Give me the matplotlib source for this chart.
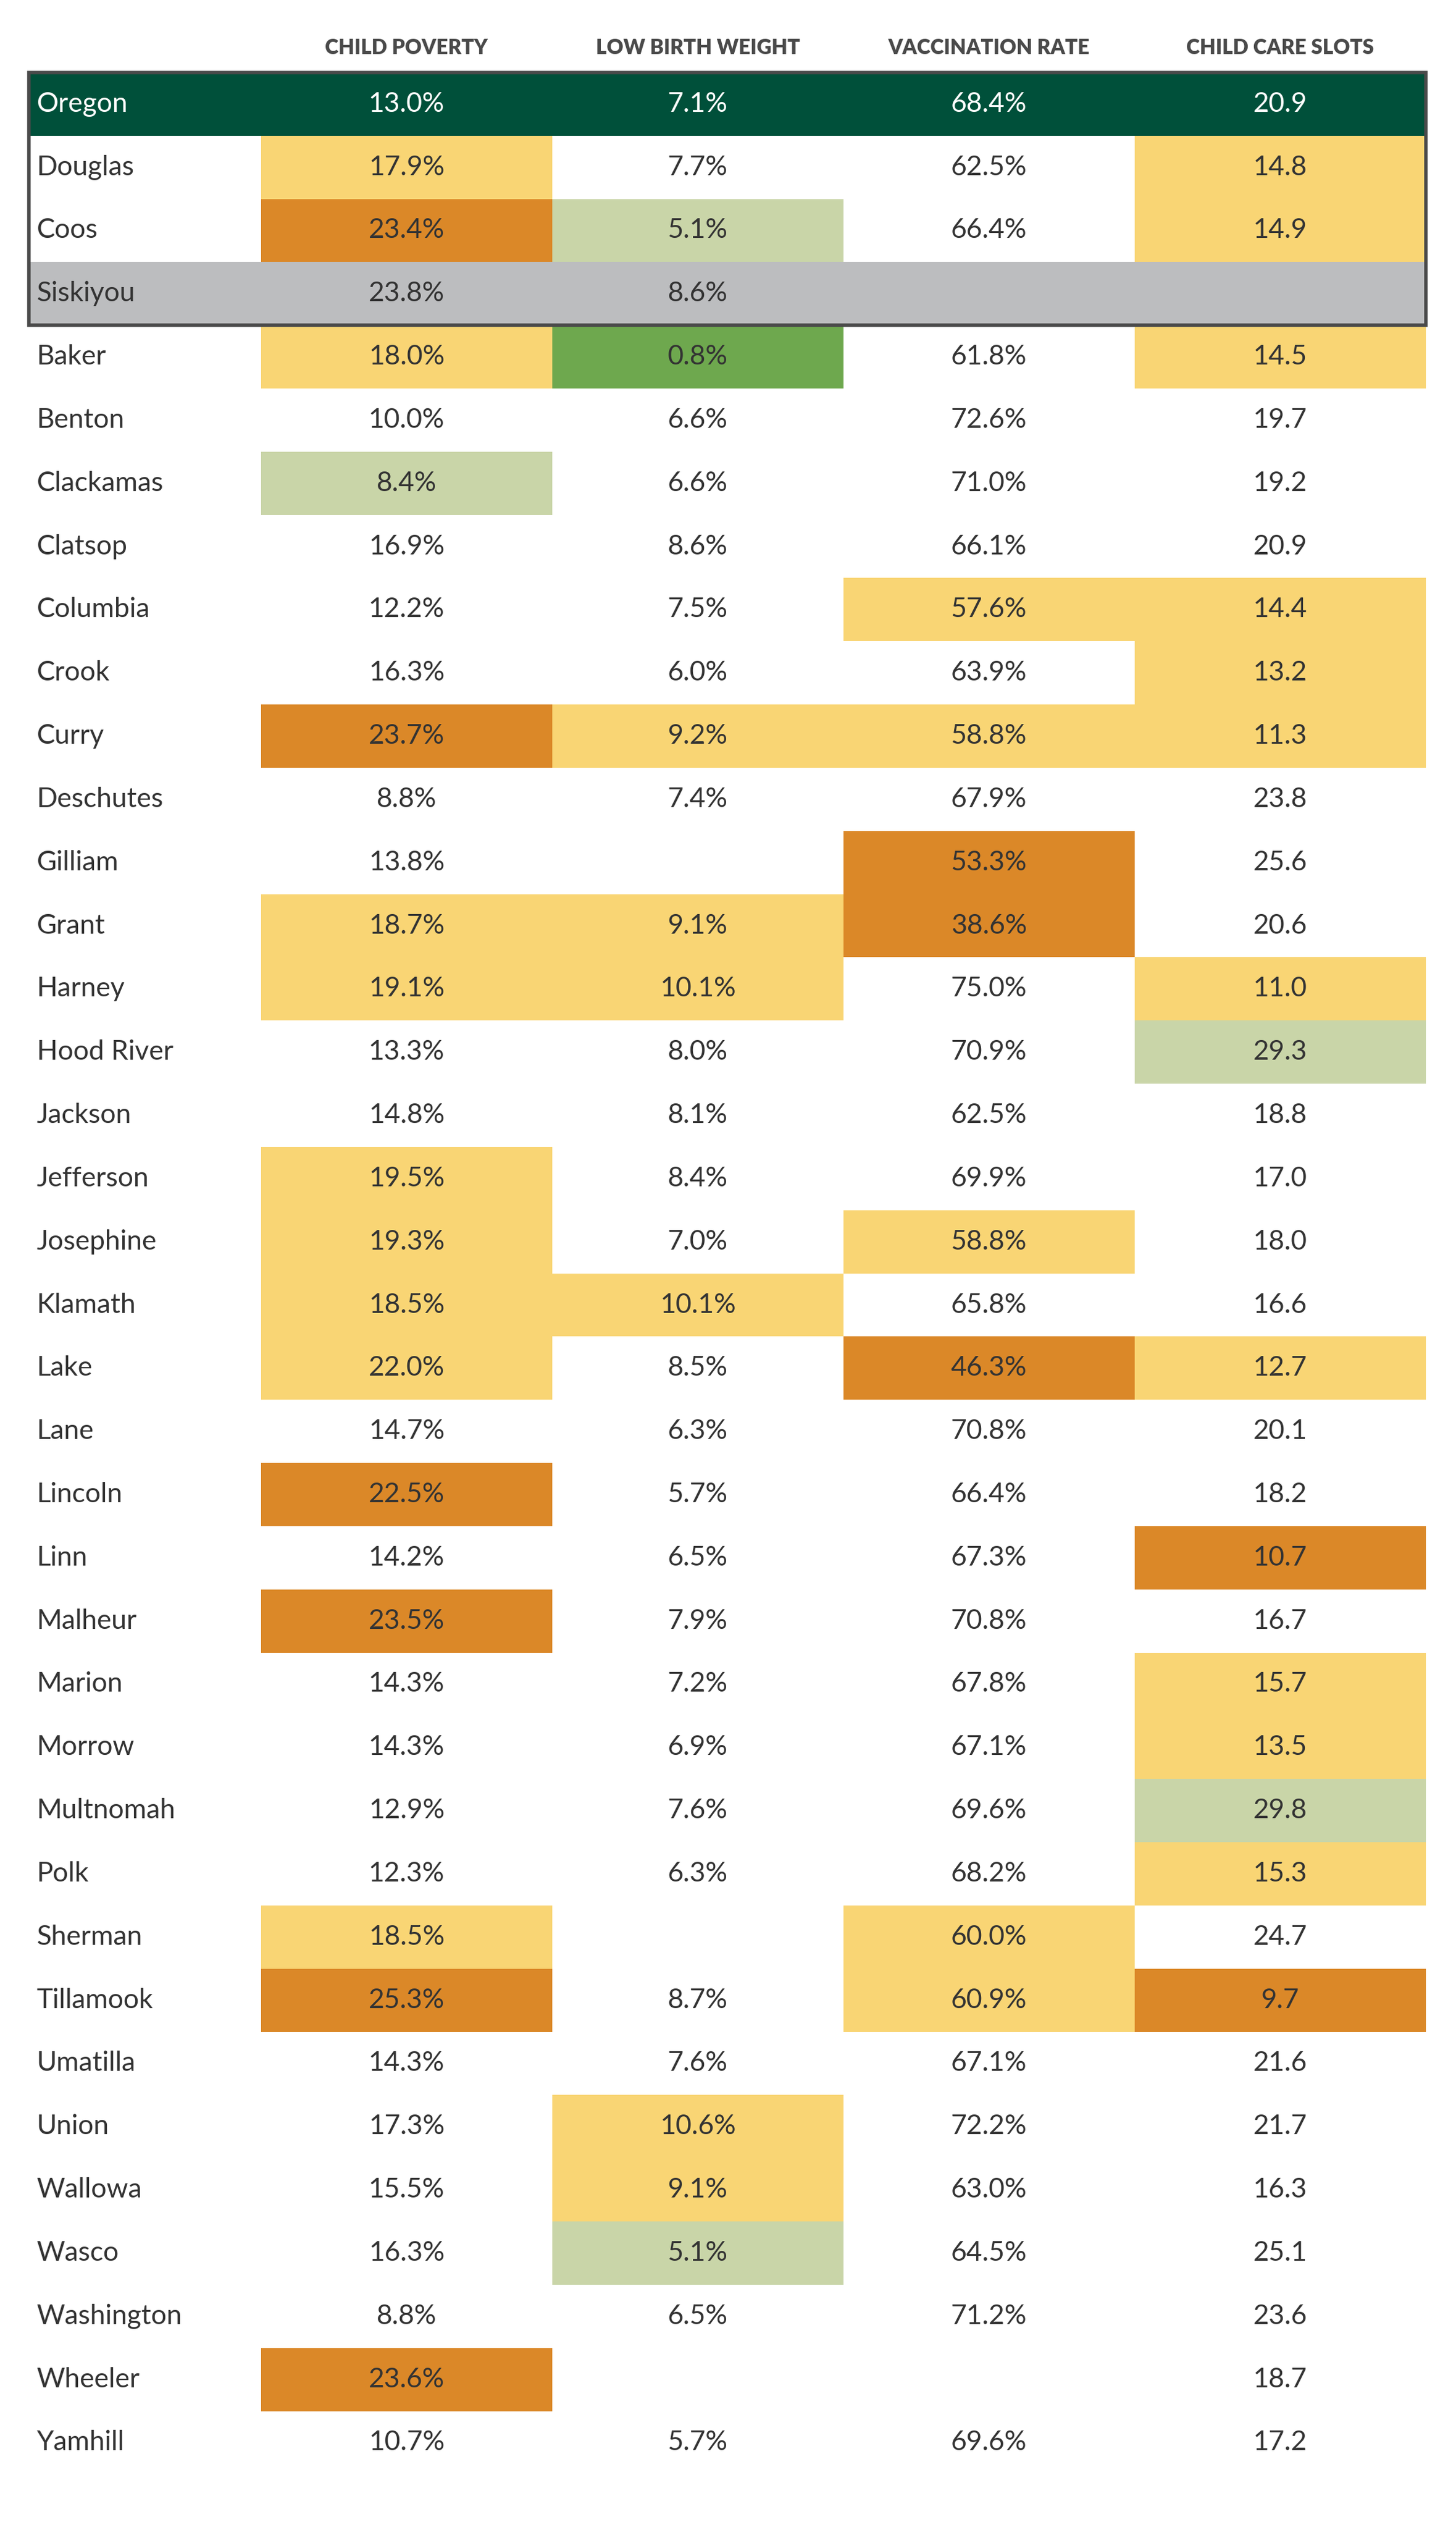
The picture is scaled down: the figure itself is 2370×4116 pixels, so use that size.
import matplotlib.pyplot as plt
from matplotlib.patches import Rectangle

# Oregon county child wellbeing table
counties = ["Oregon", "Douglas", "Coos", "Siskiyou", "Baker", "Benton", "Clackamas", "Clatsop",
            "Columbia", "Crook", "Curry", "Deschutes", "Gilliam", "Grant", "Harney", "Hood River",
            "Jackson", "Jefferson", "Josephine", "Klamath", "Lake", "Lane", "Lincoln", "Linn",
            "Malheur", "Marion", "Morrow", "Multnomah", "Polk", "Sherman", "Tillamook", "Umatilla",
            "Union", "Wallowa", "Wasco", "Washington", "Wheeler", "Yamhill"]
headers = ["CHILD POVERTY", "LOW BIRTH WEIGHT", "VACCINATION RATE", "CHILD CARE SLOTS"]

child_poverty = ["13.0%", "17.9%", "23.4%", "23.8%", "18.0%", "10.0%", "8.4%", "16.9%", "12.2%",
                 "16.3%", "23.7%", "8.8%", "13.8%", "18.7%", "19.1%", "13.3%", "14.8%", "19.5%",
                 "19.3%", "18.5%", "22.0%", "14.7%", "22.5%", "14.2%", "23.5%", "14.3%", "14.3%",
                 "12.9%", "12.3%", "18.5%", "25.3%", "14.3%", "17.3%", "15.5%", "16.3%", "8.8%",
                 "23.6%", "10.7%"]
low_birth_weight = ["7.1%", "7.7%", "5.1%", "8.6%", "0.8%", "6.6%", "6.6%", "8.6%", "7.5%", "6.0%",
                    "9.2%", "7.4%", "", "9.1%", "10.1%", "8.0%", "8.1%", "8.4%", "7.0%", "10.1%",
                    "8.5%", "6.3%", "5.7%", "6.5%", "7.9%", "7.2%", "6.9%", "7.6%", "6.3%", "",
                    "8.7%", "7.6%", "10.6%", "9.1%", "5.1%", "6.5%", "", "5.7%"]
vaccination = ["68.4%", "62.5%", "66.4%", "", "61.8%", "72.6%", "71.0%", "66.1%", "57.6%", "63.9%",
               "58.8%", "67.9%", "53.3%", "38.6%", "75.0%", "70.9%", "62.5%", "69.9%", "58.8%",
               "65.8%", "46.3%", "70.8%", "66.4%", "67.3%", "70.8%", "67.8%", "67.1%", "69.6%",
               "68.2%", "60.0%", "60.9%", "67.1%", "72.2%", "63.0%", "64.5%", "71.2%", "", "69.6%"]
child_care = ["20.9", "14.8", "14.9", "", "14.5", "19.7", "19.2", "20.9", "14.4", "13.2", "11.3",
              "23.8", "25.6", "20.6", "11.0", "29.3", "18.8", "17.0", "18.0", "16.6", "12.7", "20.1",
              "18.2", "10.7", "16.7", "15.7", "13.5", "29.8", "15.3", "24.7", "9.7", "21.6", "21.7",
              "16.3", "25.1", "23.6", "18.7", "17.2"]

# highlight codes per row: y=yellow, o=orange, l=light green, g=green, .=none
code_poverty = "-yo-y.l...o..yy..yyyy.o.o....yo.....o."
code_lbw     = "-.l-g.....y..yy....y............yyl..."
code_vacc    = "-..-....y.y.oo....y.o........yy......."
code_care    = "-yy-y...yyy...yl....y..o.yyly.o......."

palette = {"y": "#f9d574", "o": "#db8828", "l": "#c9d5a8", "g": "#6ea84e"}
values = [child_poverty, low_birth_weight, vaccination, child_care]
codes = [code_poverty, code_lbw, code_vacc, code_care]

W, H = 915, 1589.1
fig = plt.figure(figsize=(23.7, 41.16), dpi=100)
ax = fig.add_axes([0, 0, 1, 1])
ax.set_xlim(0, W)
ax.set_ylim(H, 0)
ax.axis("off")

font = "Lato"
txt = "#333333"
col_edges = [164, 347, 530, 713, 896]
top, rh = 45.5, 39.7

for j, h in enumerate(headers):
    cx = (col_edges[j] + col_edges[j + 1]) / 2
    ax.text(cx, 30, h, ha="center", va="center", fontsize=24, fontweight="heavy",
            color="#4a4a4a", family=font)

for i, name in enumerate(counties):
    y0 = top + i * rh
    cy = y0 + rh / 2
    color = txt
    if i == 0:
        ax.add_patch(Rectangle((18, y0), 878, rh, color="#00503a", lw=0))
        color = "white"
    elif i == 3:
        ax.add_patch(Rectangle((18, y0), 878, rh, color="#bcbdbf", lw=0))
    ax.text(23, cy, name, ha="left", va="center", fontsize=32, color=color, family=font)
    for j in range(4):
        c = codes[j][i]
        if c in palette:
            ax.add_patch(Rectangle((col_edges[j], y0), col_edges[j + 1] - col_edges[j], rh,
                                   color=palette[c], lw=0))
        cx = (col_edges[j] + col_edges[j + 1]) / 2
        ax.text(cx, cy, values[j][i], ha="center", va="center", fontsize=32, color=color,
                family=font)

ax.add_patch(Rectangle((18, top), 878, 4 * rh, fill=False, ec="#4a4a4a", lw=4))

fig.savefig("out.png", dpi=100, facecolor="white")
